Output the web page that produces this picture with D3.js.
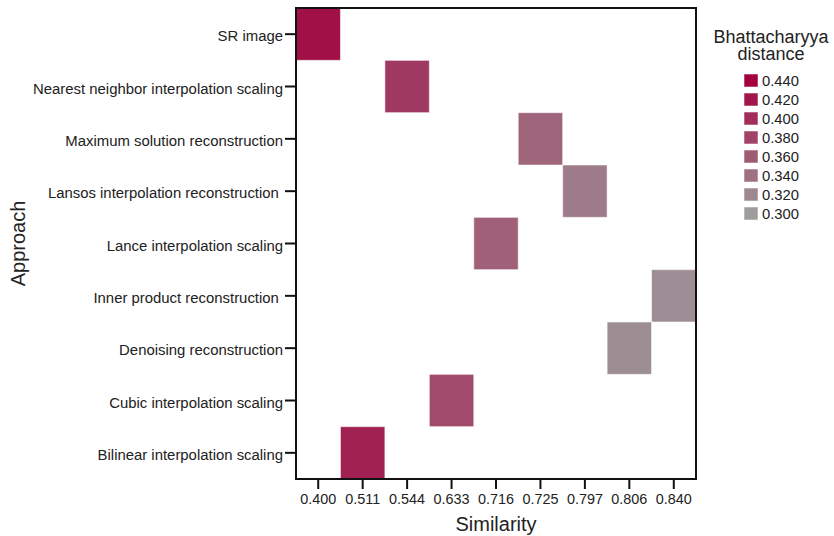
<!DOCTYPE html>
<html>
<head>
<meta charset="utf-8">
<script src="https://cdn.jsdelivr.net/npm/d3@7/dist/d3.min.js"></script>
<style>
  html, body { margin: 0; padding: 0; background: #fff; }
  text { font-family: "Liberation Sans", Arial, sans-serif; fill: #222; }
</style>
</head>
<body>
<svg id="chart" width="834" height="536"></svg>
<script>
// ---- data ----
const approaches = [
  "SR image",
  "Nearest neighbor interpolation scaling",
  "Maximum solution reconstruction",
  "Lansos interpolation reconstruction ",
  "Lance interpolation scaling",
  "Inner product reconstruction ",
  "Denoising reconstruction",
  "Cubic interpolation scaling",
  "Bilinear interpolation scaling"
];
const similarityCategories = ["0.400","0.511","0.544","0.633","0.716","0.725","0.797","0.806","0.840"];
const similarity = ["0.400","0.544","0.725","0.797","0.716","0.840","0.806","0.633","0.511"];
const distance = [0.426, 0.389, 0.350, 0.330, 0.354, 0.314, 0.313, 0.373, 0.410];
const legendTicks = [0.440, 0.420, 0.400, 0.380, 0.360, 0.340, 0.320, 0.300];

// ---- layout ----
const svg = d3.select("#chart");
const plot = { left: 296, right: 696, top: 8, bottom: 479 };

const x = d3.scaleBand().domain(similarityCategories).range([plot.left, plot.right]);
const y = d3.scaleBand().domain(approaches).range([plot.top, plot.bottom]);
const color = d3.scaleLinear().domain([0.30, 0.44]).range(["#9d9d9d", "#a2003e"]);

const cells = approaches.map((a, i) => ({ a, s: similarity[i], d: distance[i] }));

svg.append("g").selectAll("rect").data(cells).join("rect")
  .attr("x", d => x(d.s))
  .attr("y", d => y(d.a))
  .attr("width", x.bandwidth())
  .attr("height", y.bandwidth())
  .attr("fill", d => color(d.d))
  .attr("stroke", "#ffffff")
  .attr("stroke-opacity", 0.55)
  .attr("stroke-width", 1);

// frame
svg.append("rect")
  .attr("x", plot.left).attr("y", plot.top)
  .attr("width", plot.right - plot.left).attr("height", plot.bottom - plot.top)
  .attr("fill", "none").attr("stroke", "#111").attr("stroke-width", 2);

// x axis
const xAxis = svg.append("g")
  .attr("transform", `translate(0,${plot.bottom})`)
  .call(d3.axisBottom(x).tickSize(10).tickPadding(5));
xAxis.select(".domain").remove();
xAxis.selectAll(".tick line").attr("stroke", "#111").attr("stroke-width", 2);
xAxis.selectAll(".tick text")
  .style("font-size", "14.4px").style("font-family", "Liberation Sans, Arial, sans-serif")
  .attr("fill", "#222");

// y axis
const yAxis = svg.append("g")
  .attr("transform", `translate(${plot.left},0)`)
  .call(d3.axisLeft(y).tickSize(11).tickPadding(2));
yAxis.select(".domain").remove();
yAxis.selectAll(".tick line").attr("stroke", "#111").attr("stroke-width", 2);
yAxis.selectAll(".tick text")
  .style("font-size", "14.9px").style("font-family", "Liberation Sans, Arial, sans-serif")
  .style("white-space", "pre")
  .attr("dy", "0.48em")
  .attr("fill", "#222");

// axis titles
svg.append("text")
  .attr("x", (plot.left + plot.right) / 2).attr("y", 531)
  .attr("text-anchor", "middle").style("font-size", "20px")
  .text("Similarity");
svg.append("text")
  .attr("transform", `translate(25,${(plot.top + plot.bottom) / 2}) rotate(-90)`)
  .attr("text-anchor", "middle").style("font-size", "20px")
  .text("Approach");

// legend
const lg = svg.append("g");
lg.append("text").attr("x", 771).attr("y", 43).attr("text-anchor", "middle")
  .style("font-size", "18px").text("Bhattacharyya");
lg.append("text").attr("x", 771).attr("y", 60).attr("text-anchor", "middle")
  .style("font-size", "18px").text("distance");

const legendY = d3.scalePoint().domain(legendTicks).range([74, 207]);
const rows = lg.selectAll("g.row").data(legendTicks).join("g").attr("class", "row")
  .attr("transform", d => `translate(744,${legendY(d)})`);
rows.append("rect")
  .attr("width", 14).attr("height", 13)
  .attr("fill", d => color(d))
  .attr("stroke", "#ffffff").attr("stroke-opacity", 0.55).attr("stroke-width", 1);
rows.append("text")
  .attr("x", 18).attr("y", 12)
  .style("font-size", "14.8px")
  .text(d => d3.format(".3f")(d));
</script>
</body>
</html>
